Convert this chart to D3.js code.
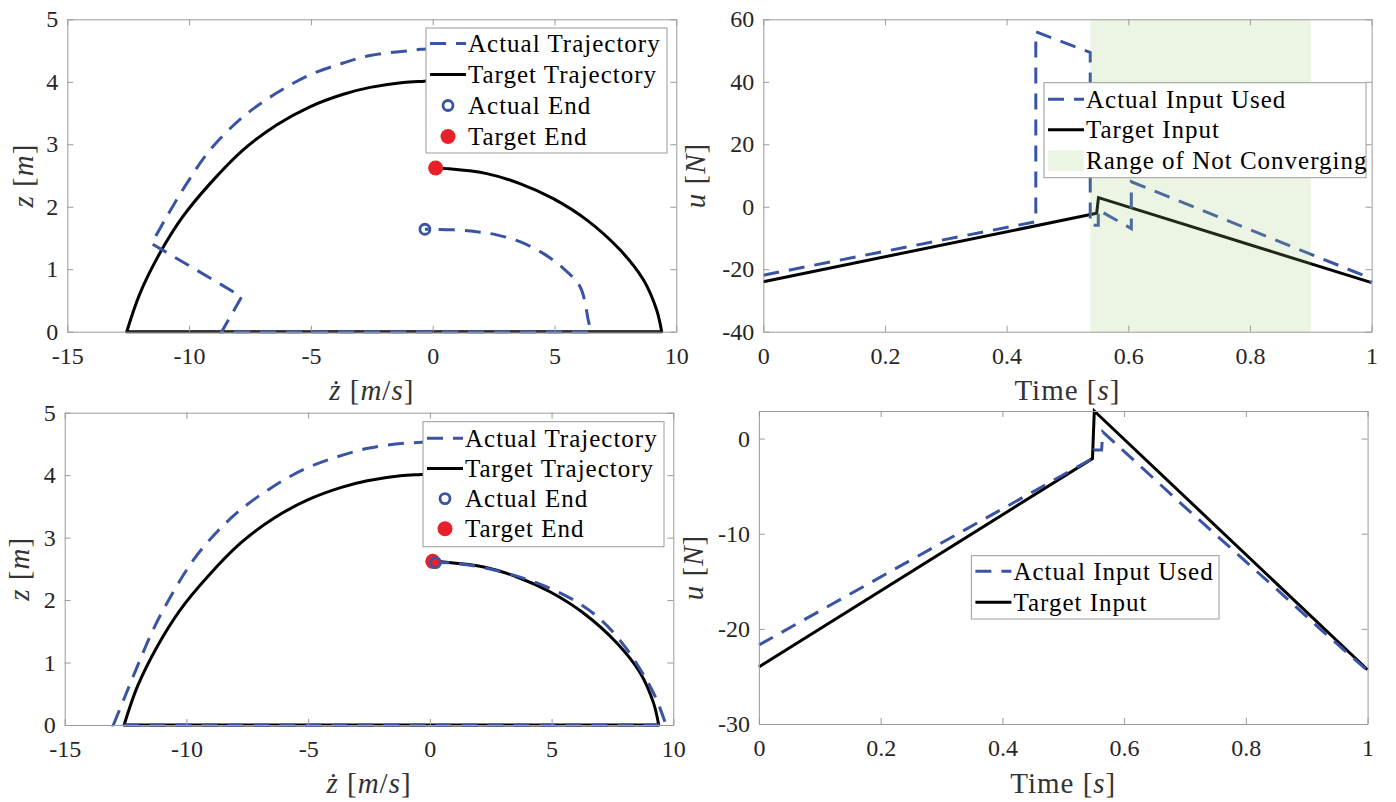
<!DOCTYPE html>
<html>
<head>
<meta charset="utf-8">
<script src="https://cdn.jsdelivr.net/npm/d3@7"></script>
<style>
  body { margin: 0; background: #fff; }
</style>
</head>
<body>
<div id="chart"></div>
<script>
// ---- tick values ----
const zdotTicks = [-15, -10, -5, 0, 5, 10];
const zTicks = [0, 1, 2, 3, 4, 5];
const timeTicks = [0, 0.2, 0.4, 0.6, 0.8, 1];
const uTicksTop = [-40, -20, 0, 20, 40, 60];
const uTicksBottom = [-30, -20, -10, 0];

// ---- target trajectory (same in both phase plots) ----
const targetFallZdot = [0, -0.34, -1.21, -2.57, -3.67, -5.04, -6.41, -7.78, -9.14, -10.26, -11.21, -12.02, -12.56];
const targetFallZ    = [4.02, 4.01, 3.99, 3.91, 3.80, 3.60, 3.31, 2.91, 2.37, 1.84, 1.25, 0.61, 0];
const targetGroundZdot = [-12.56, 9.4];
const targetGroundZ    = [0, 0];
const targetRiseZdot = [9.4, 9.19, 8.65, 7.69, 6.32, 4.95, 3.58, 2.22, 0.57, 0.12];
const targetRiseZ    = [0, 0.35, 0.83, 1.31, 1.79, 2.13, 2.37, 2.53, 2.61, 2.62];
const targetEnd = [0.12, 2.62];

// ---- actual trajectory, top (not converging) ----
const actualTopFallZdot = [0, -0.52, -0.93, -2.57, -3.67, -5.04, -6.41, -7.78, -9.14, -10.1, -10.92, -11.54];
const actualTopFallZ    = [4.53, 4.52, 4.50, 4.42, 4.30, 4.11, 3.82, 3.44, 2.91, 2.37, 1.84, 1.41];
const actualTopKinkZdot = [-11.54, -7.84, -8.66, 6.5];
const actualTopKinkZ    = [1.41, 0.56, 0, 0];
const actualTopRiseZdot = [6.5, 6.40, 6.05, 5.37, 4.55, 3.58, 2.63, 1.80, 0.85, -0.32];
const actualTopRiseZ    = [0, 0.16, 0.72, 1.01, 1.25, 1.44, 1.55, 1.60, 1.63, 1.64];
const actualTopEnd = [-0.32, 1.64];

// ---- actual trajectory, bottom (converging) ----
const actualBotFallZdot = [0, -1.07, -2.54, -3.83, -5.13, -6.43, -7.73, -8.70, -9.68, -10.48, -11.30, -11.95, -12.52, -13.0];
const actualBotFallZ    = [4.53, 4.51, 4.43, 4.29, 4.10, 3.82, 3.46, 3.11, 2.66, 2.17, 1.58, 1.0, 0.46, 0];
const actualBotGroundZdot = [-13.0, 9.7];
const actualBotGroundZ    = [0, 0];
const actualBotRiseZdot = [9.7, 9.32, 8.83, 8.02, 7.04, 5.91, 4.29, 2.66, 1.04, 0.23];
const actualBotRiseZ    = [0, 0.40, 0.77, 1.25, 1.68, 2.0, 2.29, 2.48, 2.59, 2.60];
const actualBotEnd = [0.23, 2.60];

// ---- inputs ----
const targetTime = [0, 0.548, 0.551, 1.0];
const targetU    = [-24.0, -2.1, 2.9, -24.3];
const actualTopTime = [0, 0.448, 0.448, 0.5375, 0.5375, 0.5507, 0.5507, 0.605, 0.605, 0.992, 1.0];
const actualTopU    = [-21.9, -4.8, 56.0, 49.4, -5.9, -5.9, -1.0, -7.0, 8.0, -22.4, -24.3];
const actualBotTime = [0, 0.545, 0.55, 0.563, 0.565, 0.7, 0.85, 0.92, 1.0];
const actualBotU    = [-21.7, -2.2, -1.2, -1.2, 0.7, -7.2, -15.8, -19.9, -24.4];
const notConverging = [0.5375, 0.9];

const BLUE = "#3a54a4", RED = "#e8202a", AXIS = "#9a9a9a", TXT = "#262626";
const DASH = "16 10";
const FONT = "Liberation Serif";

const svg = d3.select("#chart").append("svg")
  .attr("width", 1396)
  .attr("height", 802);

const zip = (a, b) => a.map((v, i) => [v, b[i]]);

// one continuous path made of pieces (smooth arcs / straight polylines)
function piecesPath(x, y, pieces) {
  return pieces.map((p, i) => {
    const line = d3.line()
      .x(d => x(d[0]))
      .y(d => y(d[1]))
      .curve(p.smooth ? d3.curveCatmullRom.alpha(0.5) : d3.curveLinear);
    const s = line(zip(p.xs, p.ys));
    return i === 0 ? s : "L" + s.slice(1);
  }).join("");
}

function axes(g, x, y, box, xt, yt) {
  const style = a => {
    a.attr("font-size", 24).attr("font-family", null);
    a.selectAll("path, line").attr("stroke", AXIS);
    a.selectAll("text").attr("fill", TXT).attr("font-family", FONT);
  };
  g.append("g").attr("transform", `translate(0,${box.bottom})`)
    .call(d3.axisBottom(x).tickValues(xt).tickFormat(d => String(d))
      .tickSizeInner(-6).tickSizeOuter(0).tickPadding(15))
    .call(style);
  g.append("g").attr("transform", `translate(0,${box.top})`)
    .call(d3.axisTop(x).tickValues(xt).tickFormat("")
      .tickSizeInner(-6).tickSizeOuter(0))
    .call(style);
  g.append("g").attr("transform", `translate(${box.left},0)`)
    .call(d3.axisLeft(y).tickValues(yt).tickFormat(d => String(d))
      .tickSizeInner(-6).tickSizeOuter(0).tickPadding(9))
    .call(style);
  g.append("g").attr("transform", `translate(${box.right},0)`)
    .call(d3.axisRight(y).tickValues(yt).tickFormat("")
      .tickSizeInner(-6).tickSizeOuter(0))
    .call(style);
}

function label(g, parts, x, y, rotate) {
  const t = g.append("text")
    .attr("transform", `translate(${x},${y})` + (rotate ? " rotate(-90)" : ""))
    .attr("text-anchor", "middle")
    .attr("font-family", FONT)
    .attr("font-size", 29)
    .attr("letter-spacing", 1)
    .attr("fill", "#333");
  parts.forEach(([s, it]) => t.append("tspan").attr("font-style", it ? "italic" : "normal").text(s));
}

const zdotLabel = [["ż", true], [" [", false], ["m", true], ["/", false], ["s", true], ["]", false]];
const zLabel = [["z", true], [" [", false], ["m", true], ["]", false]];
const uLabel = [["u", true], [" [", false], ["N", true], ["]", false]];
const timeLabel = [["Time [", false], ["s", true], ["]", false]];

function legend(g, L, items) {
  g.append("rect")
    .attr("x", L.x).attr("y", L.y).attr("width", L.w).attr("height", L.h)
    .attr("fill", "#fff").attr("stroke", AXIS).attr("stroke-width", 1);
  items.forEach((it, i) => {
    const cy = L.y + L.first + i * L.gap;
    const x0 = L.x + 4, x1 = L.x + 40, xm = (x0 + x1) / 2;
    if (it.type === "dash") {
      g.append("line").attr("x1", x0).attr("x2", x1).attr("y1", cy).attr("y2", cy)
        .attr("stroke", BLUE).attr("stroke-width", 3).attr("stroke-dasharray", DASH);
    } else if (it.type === "solid") {
      g.append("line").attr("x1", x0).attr("x2", x1).attr("y1", cy).attr("y2", cy)
        .attr("stroke", "#000").attr("stroke-width", 3);
    } else if (it.type === "ring") {
      g.append("circle").attr("cx", xm).attr("cy", cy).attr("r", 5)
        .attr("fill", "none").attr("stroke", BLUE).attr("stroke-width", 2.8);
    } else if (it.type === "dot") {
      g.append("circle").attr("cx", xm).attr("cy", cy).attr("r", 7.5).attr("fill", RED);
    } else if (it.type === "patch") {
      g.append("rect").attr("x", x0).attr("y", cy - 10).attr("width", x1 - x0).attr("height", 21)
        .attr("fill", "#ecf5e4");
    }
    g.append("text").attr("x", L.x + 42).attr("y", cy).attr("dy", "0.34em")
      .attr("font-family", FONT)
      .attr("font-size", 25).attr("letter-spacing", 1).attr("fill", "#000").text(it.text);
  });
}

function phasePlot(box, fall, ground, rise, aPieces, aEnd, leg, labelPos) {
  const g = svg.append("g");
  const x = d3.scaleLinear().domain([-15, 10]).range([box.left, box.right]);
  const y = d3.scaleLinear().domain([0, 5]).range([box.bottom, box.top]);

  g.append("path")
    .attr("d", piecesPath(x, y, [fall, ground, rise]))
    .attr("fill", "none").attr("stroke", "#000").attr("stroke-width", 3)
    .attr("stroke-linejoin", "round");
  g.append("path")
    .attr("d", piecesPath(x, y, aPieces))
    .attr("fill", "none").attr("stroke", BLUE).attr("stroke-width", 3)
    .attr("stroke-dasharray", DASH);
  g.append("circle").attr("cx", x(targetEnd[0])).attr("cy", y(targetEnd[1]))
    .attr("r", 7.5).attr("fill", RED);
  g.append("circle").attr("cx", x(aEnd[0])).attr("cy", y(aEnd[1]))
    .attr("r", 5).attr("fill", "none").attr("stroke", BLUE).attr("stroke-width", 2.8);

  axes(g, x, y, box, zdotTicks, zTicks);
  legend(g, leg, [
    { type: "dash", text: "Actual Trajectory" },
    { type: "solid", text: "Target Trajectory" },
    { type: "ring", text: "Actual End" },
    { type: "dot", text: "Target End" }
  ]);
  label(g, zdotLabel, (box.left + box.right) / 2, labelPos.xy, false);
  label(g, zLabel, labelPos.yx, (box.top + box.bottom) / 2, true);
}

function inputPlot(box, yDomain, yTicks, aTime, aU, showPatch, leg, items, labelPos) {
  const g = svg.append("g");
  const x = d3.scaleLinear().domain([0, 1]).range([box.left, box.right]);
  const y = d3.scaleLinear().domain(yDomain).range([box.bottom, box.top]);
  const line = d3.line().x(d => x(d[0])).y(d => y(d[1]));

  g.append("path").datum(zip(targetTime, targetU)).attr("d", line)
    .attr("fill", "none").attr("stroke", "#000").attr("stroke-width", 3);
  g.append("path").datum(zip(aTime, aU)).attr("d", line)
    .attr("fill", "none").attr("stroke", BLUE).attr("stroke-width", 3)
    .attr("stroke-dasharray", DASH);

  if (showPatch) {
    g.append("rect")
      .attr("x", x(notConverging[0])).attr("width", x(notConverging[1]) - x(notConverging[0]))
      .attr("y", box.top).attr("height", box.bottom - box.top)
      .attr("fill", "#9fcd78").attr("fill-opacity", 0.2);
  }

  axes(g, x, y, box, timeTicks, yTicks);
  legend(g, leg, items);
  label(g, timeLabel, (box.left + box.right) / 2, labelPos.xy, false);
  label(g, uLabel, labelPos.yx, (box.top + box.bottom) / 2, true);
}

phasePlot(
  { left: 67.3, right: 676.3, top: 19.3, bottom: 331.7 },
  { xs: targetFallZdot, ys: targetFallZ, smooth: true },
  { xs: targetGroundZdot, ys: targetGroundZ, smooth: false },
  { xs: targetRiseZdot, ys: targetRiseZ, smooth: true },
  [
    { xs: actualTopFallZdot, ys: actualTopFallZ, smooth: true },
    { xs: actualTopKinkZdot, ys: actualTopKinkZ, smooth: false },
    { xs: actualTopRiseZdot, ys: actualTopRiseZ, smooth: true }
  ],
  actualTopEnd,
  { x: 426, y: 28, w: 241, h: 125, first: 15.5, gap: 31 },
  { xy: 400, yx: 33 }
);

phasePlot(
  { left: 64.7, right: 673.3, top: 412.7, bottom: 725 },
  { xs: targetFallZdot, ys: targetFallZ, smooth: true },
  { xs: targetGroundZdot, ys: targetGroundZ, smooth: false },
  { xs: targetRiseZdot, ys: targetRiseZ, smooth: true },
  [
    { xs: actualBotFallZdot, ys: actualBotFallZ, smooth: true },
    { xs: actualBotGroundZdot, ys: actualBotGroundZ, smooth: false },
    { xs: actualBotRiseZdot, ys: actualBotRiseZ, smooth: true }
  ],
  actualBotEnd,
  { x: 423, y: 421.7, w: 241, h: 125, first: 16.5, gap: 30.2 },
  { xy: 793, yx: 29 }
);

inputPlot(
  { left: 763.3, right: 1371.6, top: 19.3, bottom: 331.7 },
  [-40, 60], uTicksTop, actualTopTime, actualTopU, true,
  { x: 1044, y: 82.7, w: 322, h: 95, first: 16.5, gap: 30.5 },
  [
    { type: "dash", text: "Actual Input Used" },
    { type: "solid", text: "Target Input" },
    { type: "patch", text: "Range of Not Converging" }
  ],
  { xy: 400, yx: 705 }
);

inputPlot(
  { left: 758.9, right: 1367.6, top: 411, bottom: 724 },
  [-30, 2.9], uTicksBottom, actualBotTime, actualBotU, false,
  { x: 971.4, y: 555.7, w: 247.6, h: 63.3, first: 15.5, gap: 31 },
  [
    { type: "dash", text: "Actual Input Used" },
    { type: "solid", text: "Target Input" }
  ],
  { xy: 793, yx: 703 }
);
</script>
</body>
</html>
